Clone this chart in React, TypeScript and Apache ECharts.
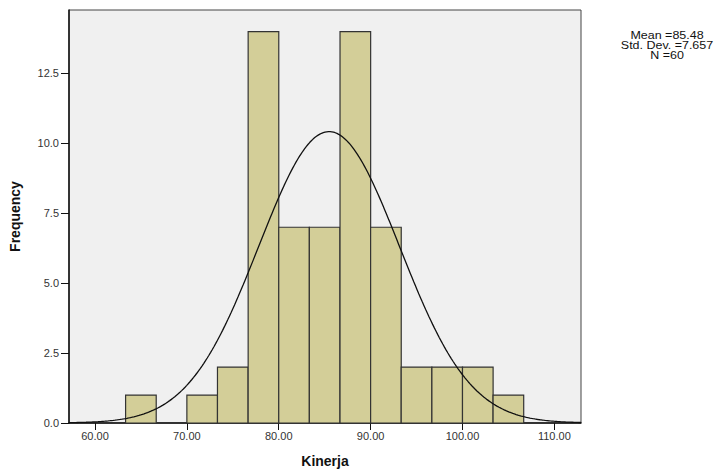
import React, { useEffect, useRef } from "react";
import * as echarts from "echarts";

const binLows = [63.33, 66.67, 70.0, 73.33, 76.67, 80.0, 83.33, 86.67, 90.0, 93.33, 96.67, 100.0, 103.33];
const binCounts = [1, 0, 1, 2, 14, 7, 7, 14, 7, 2, 2, 2, 1];
const binWidth = 3.3333;
const xTickValues = [60, 70, 80, 90, 100, 110];
const yTickValues = [0, 2.5, 5, 7.5, 10, 12.5];
const statLines = ["Mean =85.48", "Std. Dev. =7.657", "N =60"];
const mean = 85.48;
const stdDev = 7.657;
const nCases = 60;
const xMin = 57.17;
const xMax = 112.9;

function normalCurve(): number[][] {
  const pts: number[][] = [];
  const steps = 300;
  for (let i = 0; i <= steps; i++) {
    const x = xMin + ((xMax - xMin) * i) / steps;
    const z = (x - mean) / stdDev;
    const y = (nCases * binWidth * Math.exp(-0.5 * z * z)) / (stdDev * Math.sqrt(2 * Math.PI));
    pts.push([x, y]);
  }
  return pts;
}

export default function App() {
  const ref = useRef<HTMLDivElement>(null);
  useEffect(() => {
    if (!ref.current) return;
    const chart = echarts.init(ref.current, null, { renderer: "svg" });
    const font = "'Liberation Sans', Arial, sans-serif";
    const barData = binLows
      .map((lo, i) => [lo, lo + binWidth, binCounts[i]])
      .filter((d) => d[2] > 0);
    chart.setOption({
      animation: false,
      backgroundColor: "#ffffff",
      grid: {
        left: 69,
        top: 10,
        right: 142,
        bottom: 46,
        show: true,
        backgroundColor: "#f0f0f0",
        borderColor: "#444",
        borderWidth: 1,
      },
      xAxis: {
        type: "value",
        min: xMin,
        max: xMax,
        name: "Kinerja",
        nameLocation: "middle",
        nameGap: 31,
        nameTextStyle: { fontFamily: font, fontWeight: "bold", fontSize: 14, color: "#111" },
        axisLine: { show: true, onZero: false, lineStyle: { color: "#111", width: 1.5 } },
        axisTick: { show: true, length: 7, customValues: xTickValues, lineStyle: { color: "#111" } },
        axisLabel: {
          customValues: xTickValues,
          formatter: (v: number) => v.toFixed(2),
          fontFamily: font,
          fontSize: 11,
          color: "#333",
          margin: 7,
        },
        splitLine: { show: false },
      },
      yAxis: {
        type: "value",
        min: 0,
        max: 14.77,
        interval: 2.5,
        name: "Frequency",
        nameLocation: "middle",
        nameGap: 47,
        nameRotate: 90,
        nameTextStyle: { fontFamily: font, fontWeight: "bold", fontSize: 14, color: "#111" },
        axisLine: { show: true, lineStyle: { color: "#111", width: 1.5 } },
        axisTick: { show: true, length: 8, customValues: yTickValues, lineStyle: { color: "#111" } },
        axisLabel: {
          customValues: yTickValues,
          formatter: (v: number) => v.toFixed(1),
          fontFamily: font,
          fontSize: 11,
          color: "#333",
          margin: 10,
        },
        splitLine: { show: false },
      },
      graphic: statLines.map((t, i) => ({
        type: "text",
        x: 667,
        y: 30 + i * 10,
        scaleX: 1.25,
        style: {
          text: t,
          textAlign: "center",
          textVerticalAlign: "top",
          fontFamily: font,
          fontSize: 10,
          fill: "#111",
        },
      })),
      series: [
        {
          type: "custom",
          data: barData,
          renderItem: (params: any, api: any) => {
            const p0 = api.coord([api.value(0), api.value(2)]);
            const p1 = api.coord([api.value(1), 0]);
            return {
              type: "rect",
              shape: { x: p0[0], y: p0[1], width: p1[0] - p0[0], height: p1[1] - p0[1] },
              style: { fill: "#d3ce98", stroke: "#333", lineWidth: 1.2 },
            };
          },
          encode: { x: [0, 1], y: 2 },
          z: 2,
        },
        {
          type: "line",
          data: normalCurve(),
          showSymbol: false,
          smooth: false,
          lineStyle: { color: "#111", width: 1.3 },
          z: 3,
        },
      ],
    });
    return () => chart.dispose();
  }, []);
  return (
    <div
      ref={ref}
      style={{ position: "absolute", left: 0, top: 0, width: 723, height: 473 }}
    />
  );
}
